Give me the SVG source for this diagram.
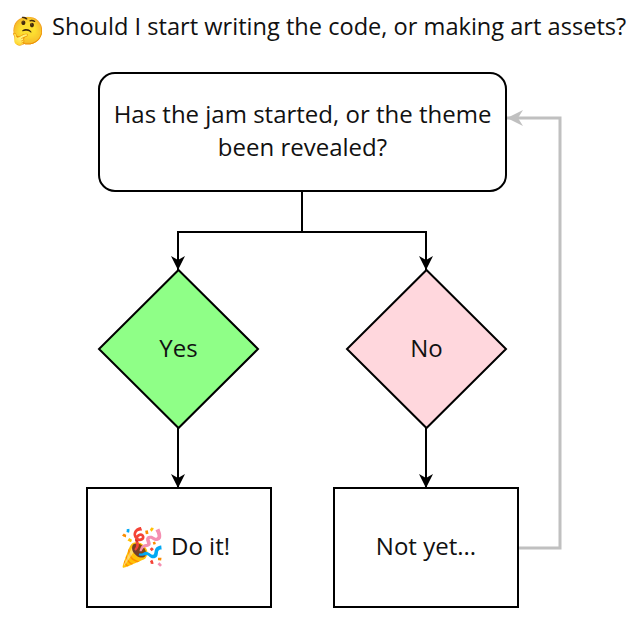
<svg xmlns="http://www.w3.org/2000/svg" width="640" height="618" viewBox="0 0 640 618">
<style>
.t{font-family:"Open Sans","Noto Sans","DejaVu Sans",sans-serif;font-size:24px;fill:#111;}
.c{text-anchor:middle;}
.emo{font-family:"Noto Color Emoji","Noto Emoji","DejaVu Sans",sans-serif;}
.box{stroke:#000;stroke-width:2;}
.ln{fill:none;stroke:#000;stroke-width:2;}
.gl{fill:none;stroke:#c0c0c0;stroke-width:3;}
</style>
<defs>
<marker id="ab" viewBox="0 0 14 14" refX="14" refY="7" markerWidth="14" markerHeight="14" orient="auto" markerUnits="userSpaceOnUse">
<path d="M0,0 L14,7 L0,14 L4,7 z" fill="#000"/>
</marker>
<marker id="ag" viewBox="0 0 16 16" refX="16" refY="8" markerWidth="16" markerHeight="16" orient="auto" markerUnits="userSpaceOnUse">
<path d="M0,0 L16,8 L0,16 L5,8 z" fill="#c0c0c0"/>
</marker>
</defs>
<rect width="640" height="618" fill="#fff"/>
<g id="title">
<text class="t emo" x="11" y="40" style="font-size:27px">🤔</text>
<text class="t" x="52" y="35" style="font-size:23.6px">Should I start writing the code, or making art assets?</text>
</g>
<g id="connectors">
<path class="ln" d="M302,191 V232 H178 V270" marker-end="url(#ab)"/>
<path class="ln" d="M302,232 H426 V270" marker-end="url(#ab)"/>
<path class="ln" d="M178,428 V488" marker-end="url(#ab)"/>
<path class="ln" d="M426,428 V488" marker-end="url(#ab)"/>
<path class="gl" d="M518,548 H560 V118 H507" marker-end="url(#ag)"/>
</g>
<g id="question">
<rect class="box" x="99" y="73" width="407" height="118" rx="16" fill="#fff"/>
<text class="t c" x="302.5" y="123">Has the jam started, or the theme</text>
<text class="t c" x="302.5" y="156">been revealed?</text>
</g>
<g id="yes">
<path class="box" d="M178.5,270 L258,349 L178.5,428 L99,349 z" fill="#8fff87"/>
<text class="t c" x="178.5" y="357">Yes</text>
</g>
<g id="no">
<path class="box" d="M426.5,270 L506,349 L426.5,428 L347,349 z" fill="#ffd7dd"/>
<text class="t c" x="426.5" y="357">No</text>
</g>
<g id="doit">
<rect class="box" x="87" y="488" width="184" height="119" fill="#fff"/>
<text class="t emo" x="119" y="560" style="font-size:37px">🎉</text>
<text class="t" x="171" y="555">Do it!</text>
</g>
<g id="notyet">
<rect class="box" x="334" y="488" width="184" height="119" fill="#fff"/>
<text class="t c" x="426" y="555">Not yet...</text>
</g>
</svg>
